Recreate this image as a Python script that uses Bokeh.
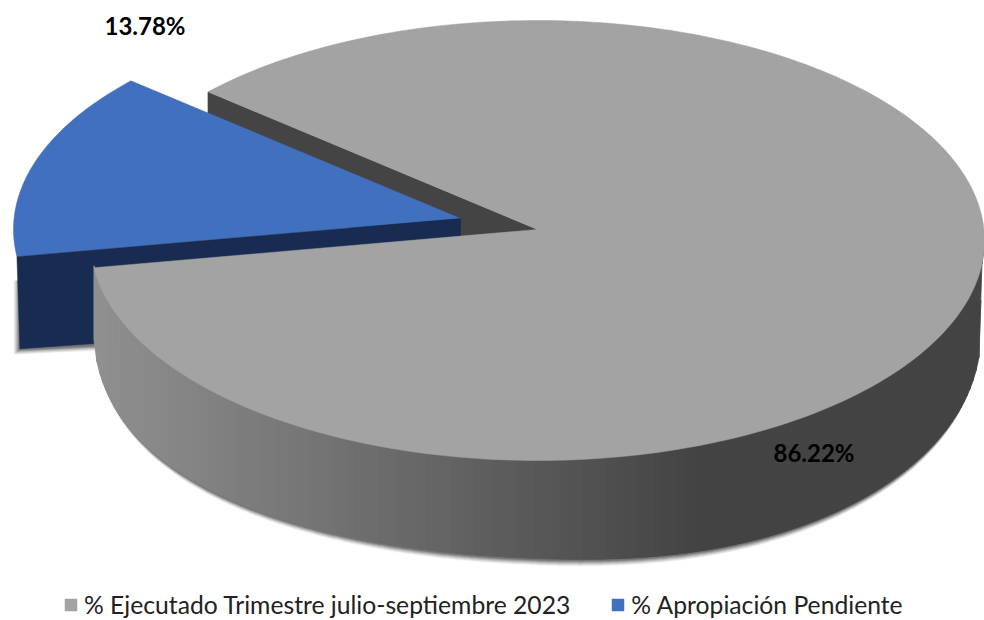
import numpy as np
from bokeh.embed import file_html
from bokeh.resources import INLINE
from bokeh.plotting import figure
from bokeh.models import Range1d, Legend, LegendItem, ColumnDataSource
from bokeh.core.properties import value

categories = ["% Ejecutado Trimestre julio-septiembre 2023", "% Apropiación Pendiente"]
shares = [86.22, 13.78]
pct_labels = ["86.22%", "13.78%"]

GRAY, BLUE = "#a3a3a3", "#4170bf"
NAVY, WALL = "#182b50", "#444444"
# projected pie geometry (page pixels)
CX, CY, RX, RY = 537, 240, 447, 220      # upper rim ellipse
APEX = (537, 229)
BX, BY, BRX, BRY = 537, 325, 444, 233    # lower rim
SHIFT = (-77, -11)                       # explosion of the blue slice
BLUE_START = 137.5                       # degrees

p = figure(width=984, height=620, output_backend="svg", toolbar_location=None,
           x_range=Range1d(0, 984), y_range=Range1d(620, 0),
           min_border=0, outline_line_color=None, background_fill_color="white")
p.axis.visible = False
p.grid.visible = False

def rim(t, cx=CX, cy=CY, rx=RX, ry=RY):
    r = np.radians(t)
    return cx + rx*np.cos(r), cy - ry*np.sin(r)

def lower_y(x):
    """Lower rim of the pie, slightly squarer than an ellipse."""
    u = np.clip(np.abs(x - BX)/BRX, 0, 1)
    y = BY + BRY*(1 - u**2.2)**(1/2.2)
    return y + 5*np.sin(np.pi*u)*np.sign(x - BX)

def upper_y(x):
    u = np.clip(np.abs(x - CX)/RX, 0, 1)
    return CY + RY*np.sqrt(1 - u**2)

sweep_blue = shares[1]/sum(shares)*360
b0, b1 = BLUE_START, BLUE_START + sweep_blue
g0, g1 = b1, BLUE_START + 360

# soft shadows
xs = np.arange(BX - BRX, BX + BRX + 1, 2.0)
for off, a in [(7, .05), (6, .08), (5, .1), (4, .12), (3, .15), (2, .2)]:
    p.patch(np.r_[xs[0], xs - np.sign(xs-BX)*off*.4, xs[-1]],
            np.r_[300, lower_y(xs)+off, 300],
            fill_color="black", fill_alpha=a, line_color=None)
    p.patch([20-off, 97, 97, 20-off], [280, 280, 344+off*.9, 348+off*.9],
            fill_color="black", fill_alpha=a, line_color=None)

# inner wall of the gray slice
xa, ya = rim(g1)
ax, ay = APEX[0]+SHIFT[0], APEX[1]+SHIFT[1]
p.patch([xa, APEX[0], ax, xa], [ya, APEX[1], ay+30, ya+110],
        fill_color=WALL, line_color=WALL, line_width=.5)

# blue slice: top and cut face
t = np.linspace(b0, b1, 60)
xb, yb = rim(t, CX+SHIFT[0], CY+SHIFT[1])
blue_r = p.patch(np.r_[ax, xb], np.r_[ay, yb], fill_color=BLUE, line_color=BLUE, line_width=.5)
p.patch([xb[-1], ax, ax, xb[-1]+3], [yb[-1], ay, ay+100, yb[-1]+92],
        fill_color=NAVY, line_color=NAVY, line_width=.5)

# gray outer wall, in narrow vertical strips with a gradient
x0 = rim(g0)[0]
edges = np.arange(x0, CX + RX + 1, 3.0)
for l, r in zip(edges[:-1], edges[1:]):
    c = int(np.interp((l+r)/2, [90, 700], [146, 68]))
    col = f"#{c:02x}{c:02x}{c:02x}"
    low_l = max(lower_y(np.array(l)), upper_y(l)) if abs(l-BX) < BRX else upper_y(l)
    low_r = max(lower_y(np.array(r)), upper_y(r)) if abs(r-BX) < BRX else upper_y(r)
    p.patch([l, r, r, l], [upper_y(l)-2, upper_y(r)-2, low_r, low_l],
            fill_color=col, line_color=col, line_width=.8)

# gray top
t = np.linspace(g0, g1, 240)
xg, yg = rim(t)
gray_r = p.patch(np.r_[APEX[0], xg], np.r_[APEX[1], yg], fill_color=GRAY, line_color=GRAY, line_width=.5)

# labels
src = ColumnDataSource(dict(x=[813.5, 144.5], y=[452, 25], t=pct_labels))
p.text("x", "y", text="t", source=src, text_font=value("Lato"), text_font_style="bold",
       text_font_size="24px", text_align="center", text_baseline="middle", text_color="black")

legend = Legend(items=[LegendItem(label=categories[0], renderers=[gray_r]),
                       LegendItem(label=categories[1], renderers=[blue_r])],
                orientation="horizontal", location=(63, 1), glyph_width=15, glyph_height=15,
                label_text_font="Lato", label_text_font_size="24.7px", label_text_color="#222222",
                spacing=40, padding=0, margin=0, label_standoff=6,
                background_fill_alpha=0, border_line_color=None)
p.add_layout(legend, "center")

open("out.html", "w").write(file_html(p, INLINE))
